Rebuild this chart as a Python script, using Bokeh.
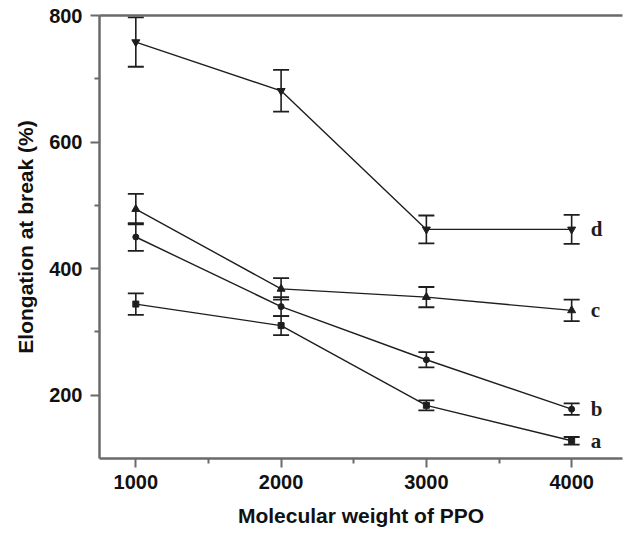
from bokeh.plotting import figure
from bokeh.models import (Range1d, FixedTicker, LinearAxis, Whisker, ColumnDataSource,
                          TeeHead, Title)
from bokeh.embed import file_html
from bokeh.resources import INLINE
from bokeh.core.properties import value

# ---- data ----
mw = [1000, 2000, 3000, 4000]
a_vals = [344, 310, 184, 128]
a_err = [17, 15, 8, 6]
b_vals = [450, 340, 256, 178]
b_err = [22, 15, 12, 9]
c_vals = [494, 368, 355, 334]
c_err = [24, 17, 16, 17]
d_vals = [758, 681, 462, 462]
d_err = [39, 33, 22, 23]
series_names = ["a", "b", "c", "d"]
x_ticks = [1000, 2000, 3000, 4000]
x_minor = [1500, 2500, 3500]
y_ticks = [200, 400, 600, 800]
y_minor = [300, 500, 700]

INK = "#1e1e1e"
AX = "#6a6a6a"

p = figure(width=634, height=533, output_backend="svg", toolbar_location=None,
           x_range=Range1d(750, 4350), y_range=Range1d(100, 800),
           min_border_left=99, min_border_right=12, min_border_top=15, min_border_bottom=75)
p.xgrid.visible = False
p.ygrid.visible = False
p.outline_line_color = None
p.background_fill_color = "white"

series = [
    ("a", a_vals, a_err, "square", 6),
    ("b", b_vals, b_err, "circle", 6),
    ("c", c_vals, c_err, "triangle", 8),
    ("d", d_vals, d_err, "inverted_triangle", 8),
]

for name, vals, err, marker, size in series:
    src = ColumnDataSource(dict(x=mw, y=vals,
                                upper=[v + e for v, e in zip(vals, err)],
                                lower=[v - e for v, e in zip(vals, err)]))
    p.line("x", "y", source=src, line_color=INK, line_width=1.4)
    w = Whisker(source=src, base="x", upper="upper", lower="lower",
                line_color=INK, line_width=1.6,
                upper_head=TeeHead(size=16, line_color=INK, line_width=1.8),
                lower_head=TeeHead(size=16, line_color=INK, line_width=1.8))
    p.add_layout(w)
    p.scatter("x", "y", source=src, marker=marker, size=size,
              fill_color=INK, line_color=INK)
    lab = ColumnDataSource(dict(x=[mw[-1]], y=[vals[-1]], t=[name]))
    p.text("x", "y", text="t", source=lab, x_offset=19,
           text_align="left", text_baseline="middle",
           text_font=value("Liberation Serif"), text_font_style="bold",
           text_font_size="21px", text_color=INK)

for ax in (p.xaxis[0], p.yaxis[0]):
    ax.axis_line_color = AX
    ax.axis_line_width = 2.5
    ax.major_tick_line_color = AX
    ax.major_tick_line_width = 2
    ax.minor_tick_line_color = AX
    ax.minor_tick_line_width = 2
    ax.major_tick_in = 0
    ax.major_tick_out = 9
    ax.minor_tick_in = 0
    ax.minor_tick_out = 5
    ax.major_label_text_font = "Liberation Sans"
    ax.major_label_text_font_style = "bold"
    ax.major_label_text_font_size = "20px"
    ax.major_label_text_color = "#111111"

p.xaxis.ticker = FixedTicker(ticks=x_ticks, minor_ticks=x_minor)
p.yaxis.ticker = FixedTicker(ticks=y_ticks, minor_ticks=y_minor)
p.xaxis.major_label_standoff = 7
p.yaxis.major_label_standoff = 8

p.xaxis.axis_label = "Molecular weight of PPO"
p.xaxis.axis_label_text_font = "Liberation Sans"
p.xaxis.axis_label_text_font_style = "bold"
p.xaxis.axis_label_text_font_size = "21px"
p.xaxis.axis_label_text_color = "#111111"
p.xaxis.axis_label_standoff = 12

# top border line
top = LinearAxis(ticker=FixedTicker(ticks=[]), axis_line_color=AX, axis_line_width=2.5,
                 major_tick_line_color=None, minor_tick_line_color=None,
                 major_label_text_font_size="0px", major_label_standoff=0)
p.add_layout(top, "above")

ytitle = Title(text="Elongation at break (%)", align="center", offset=27, standoff=20,
               text_font="Liberation Sans", text_font_style="bold",
               text_font_size="21px", text_color="#111111")
p.add_layout(ytitle, "left")

open("out.html", "w").write(file_html(p, INLINE))
